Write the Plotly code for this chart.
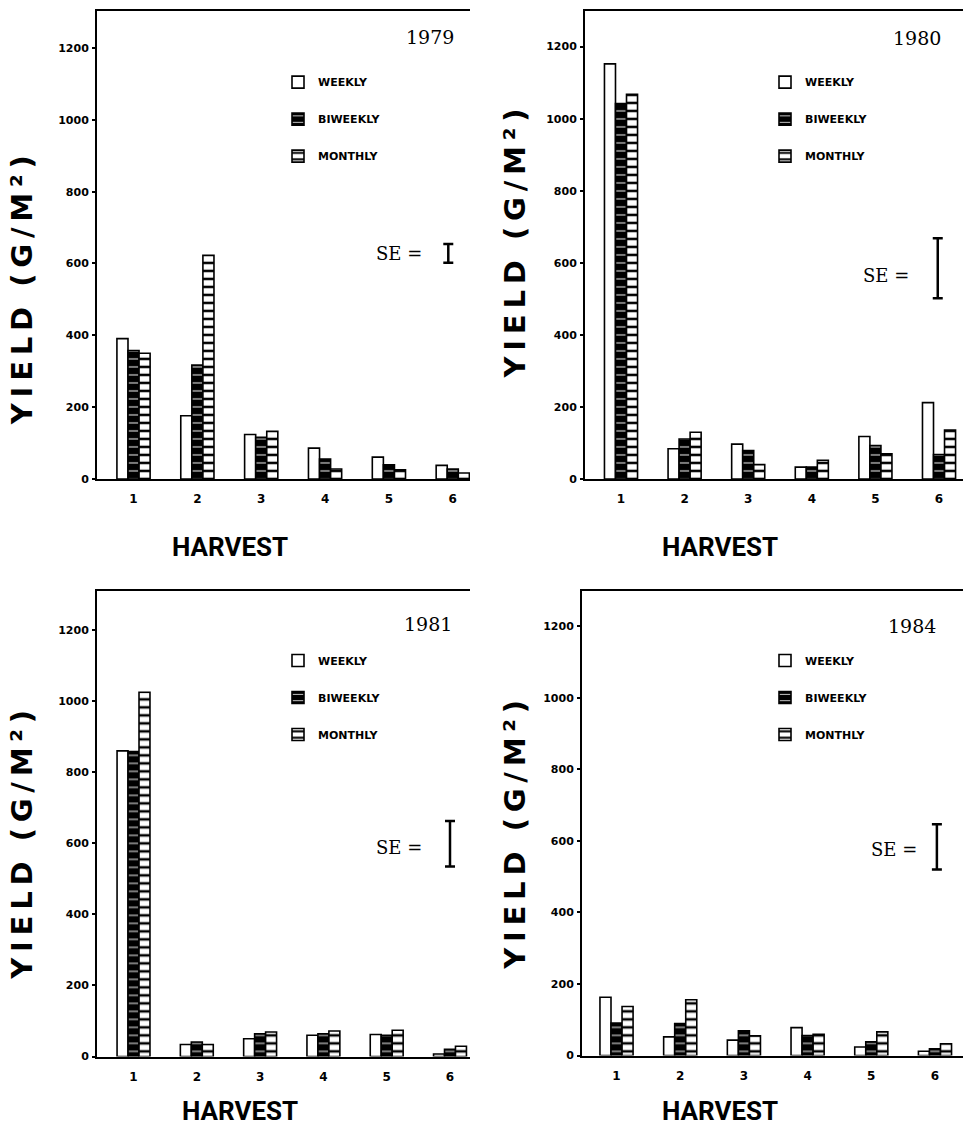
import plotly.graph_objects as go

W, H = 963, 1146

harvests = [1, 2, 3, 4, 5, 6]
years = ["1979", "1980", "1981", "1984"]
series_names = ["WEEKLY", "BIWEEKLY", "MONTHLY"]

weekly_1979 = [391, 176, 124, 86, 61, 38]
biweekly_1979 = [358, 317, 116, 56, 40, 28]
monthly_1979 = [350, 623, 133, 28, 26, 17]

weekly_1980 = [1152, 84, 97, 33, 118, 212]
biweekly_1980 = [1042, 111, 79, 33, 93, 68]
monthly_1980 = [1068, 130, 40, 52, 70, 136]

weekly_1981 = [860, 34, 50, 60, 62, 7]
biweekly_1981 = [858, 41, 64, 64, 60, 20]
monthly_1981 = [1025, 34, 69, 72, 74, 29]

weekly_1984 = [163, 52, 43, 78, 24, 12]
biweekly_1984 = [91, 89, 69, 56, 38, 19]
monthly_1984 = [137, 156, 55, 59, 66, 33]

se_values = [52, 166, 128, 127]

y_ticks = [0, 200, 400, 600, 800, 1000, 1200]

data = {
    "1979": (weekly_1979, biweekly_1979, monthly_1979),
    "1980": (weekly_1980, biweekly_1980, monthly_1980),
    "1981": (weekly_1981, biweekly_1981, monthly_1981),
    "1984": (weekly_1984, biweekly_1984, monthly_1984),
}

def px(x):
    return x / W

def py(y):
    return 1 - y / H

# panel geometry (pixels)
panels = [
    dict(l=97, r=470, t=11, b=482, xr=[0.428, 6.27], yr=[0, 1303],
         se_x=5.93, se_c=628, se_txt=(424, 255), year=(456, 37),
         leg=(318, 80), ytitle=(22, 292), xtitle=(230, 550)),
    dict(l=585, r=963, t=11, b=482, xr=[0.434, 6.377], yr=[0, 1299],
         se_x=5.98, se_c=585, se_txt=(911, 277), year=(943, 38),
         leg=(805, 80), ytitle=(515, 245), xtitle=(720, 550)),
    dict(l=97, r=470, t=595, b=1063, xr=[0.423, 6.316], yr=[0, 1309],
         se_x=6.0, se_c=599, se_txt=(424, 853), year=(454, 628),
         leg=(318, 662), ytitle=(22, 850), xtitle=(240, 1118)),
    dict(l=582, r=963, t=595, b=1062, xr=[0.458, 6.44], yr=[0, 1297],
         se_x=6.03, se_c=583, se_txt=(919, 855), year=(938, 630),
         leg=(805, 662), ytitle=(515, 840), xtitle=(720, 1118)),
]

blocky = "DejaVu Sans, Liberation Sans, sans-serif"
title_font = "Roboto, Liberation Sans, sans-serif"
serif = "DejaVu Serif, Liberation Serif, serif"

ytitle_text = "\u2009".join("YIELD") + "\u00a0\u00a0" + "\u2009".join("(G/M\u00b2)")

styles = [
    dict(color="white", pattern=dict(shape="")),
    dict(color="black", pattern=dict(shape="-", fgcolor="white", bgcolor="black",
                                      size=8, solidity=0.12, fillmode="replace")),
    dict(color="white", pattern=dict(shape="-", fgcolor="black", bgcolor="white",
                                      size=8, solidity=0.32, fillmode="replace")),
]

fig = go.Figure()
layout = dict(
    width=W, height=H, margin=dict(l=0, r=0, t=0, b=0),
    paper_bgcolor="white", plot_bgcolor="white",
    barmode="group", bargap=0.48, bargroupgap=0.0,
    showlegend=True,
)
annotations = []

for i, (yr, p) in enumerate(zip(years, panels)):
    n = "" if i == 0 else str(i + 1)
    xa, ya = "x" + n, "y" + n
    leg = "legend" + n
    vals = data[yr]
    for k, (name, v) in enumerate(zip(series_names, vals)):
        st = styles[k]
        fig.add_trace(go.Bar(
            x=harvests, y=v, name=name, xaxis=xa, yaxis=ya,
            legend=leg, legendgroup=f"{yr}-{name}",
            offsetgroup=str(k),
            marker=dict(color=st["color"], pattern=st["pattern"],
                        line=dict(color="black", width=1.6)),
        ))
    # SE bar
    fig.add_trace(go.Scatter(
        x=[p["se_x"]], y=[p["se_c"]], xaxis=xa, yaxis=ya, mode="markers",
        marker=dict(size=1, color="black"), showlegend=False, hoverinfo="skip",
        error_y=dict(type="data", array=[se_values[i] / 2], symmetric=True,
                     color="black", thickness=2.5, width=5),
    ))
    layout["xaxis" + n] = dict(
        domain=[px(p["l"]), px(p["r"])], range=p["xr"], anchor=ya,
        showline=True, linecolor="black", linewidth=2, mirror=True,
        showgrid=False, zeroline=False, tickmode="array", tickvals=harvests,
        ticks="", ticklabelstandoff=8,
        tickfont=dict(family=blocky, size=12, color="black", weight="bold"),
    )
    layout["yaxis" + n] = dict(
        domain=[py(p["b"]), py(p["t"])], range=p["yr"], anchor=xa,
        showline=True, linecolor="black", linewidth=2, mirror=False,
        showgrid=False, zeroline=False, tickmode="array", tickvals=y_ticks,
        ticks="outside", ticklen=3, tickwidth=2, tickcolor="black",
        ticklabelstandoff=1,
        tickfont=dict(family=blocky, size=11, color="black", weight="bold"),
    )
    layout[leg] = dict(
        x=px(p["leg"][0] - 40), y=py(p["leg"][1] - 12), xanchor="left", yanchor="top",
        bgcolor="rgba(0,0,0,0)", borderwidth=0, tracegroupgap=18,
        font=dict(family=blocky, size=11, color="black", weight="bold"),
        itemwidth=30,
    )
    annotations += [
        dict(x=px(p["year"][0]), y=py(p["year"][1]), xref="paper", yref="paper",
             text=yr, showarrow=False, xanchor="right", yanchor="middle",
             font=dict(family=serif, size=19, color="black")),
        dict(x=px(p["se_txt"][0]), y=py(p["se_txt"][1]), xref="paper", yref="paper",
             text="SE =", showarrow=False, xanchor="right", yanchor="middle",
             font=dict(family=serif, size=18, color="black")),
        dict(x=px(p["ytitle"][0]), y=py(p["ytitle"][1]), xref="paper", yref="paper",
             text=ytitle_text, showarrow=False, textangle=-90,
             xanchor="center", yanchor="middle",
             font=dict(family=blocky, size=29, color="black", weight="bold")),
        dict(x=px(p["xtitle"][0]), y=py(p["xtitle"][1]), xref="paper", yref="paper",
             text="HARVEST", showarrow=False, xanchor="center", yanchor="middle",
             font=dict(family=title_font, size=26, color="black", weight="bold")),
    ]

layout["annotations"] = annotations
fig.update_layout(**layout)
fig.write_html("out.html", config={"displayModeBar": False},
               post_script="document.body.style.margin='0px';")
